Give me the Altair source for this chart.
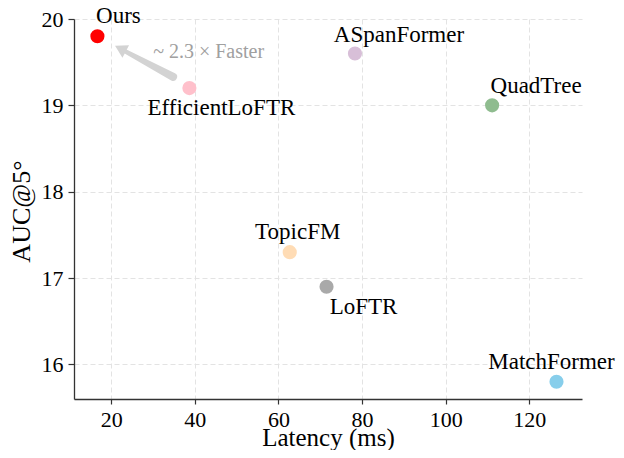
import altair as alt
import pandas as pd

# ---- data ----
methods = ["Ours", "EfficientLoFTR", "ASpanFormer", "QuadTree", "TopicFM", "LoFTR", "MatchFormer"]
latency = [16.7, 38.7, 78.3, 111.1, 62.7, 71.5, 126.5]
auc5 = [19.8, 19.2, 19.6, 19.0, 17.3, 16.9, 15.8]
colors = ["#ff0000", "#ffc0cb", "#d8bfd8", "#8fbc8f", "#ffdcb5", "#a9a9a9", "#87ceeb"]

x_ticks = [20, 40, 60, 80, 100, 120]
y_ticks = [16, 17, 18, 19, 20]

# annotation (arrow from EfficientLoFTR towards Ours)
arrow_x = [34.8, 22.2]
arrow_y = [19.33, 19.656]
arrow_w = [8, 4]
note_text = "~ 2.3 × Faster"
note_x = [43.3]
note_y = [19.547]

# ---- layout / style ----
FONT = "Liberation Serif"
label_offsets = {  # dx, dy (baseline) in px
    "Ours": (21, -13),
    "EfficientLoFTR": (32, 27),
    "ASpanFormer": (44, -12),
    "QuadTree": (44, -12),
    "TopicFM": (8, -13),
    "LoFTR": (37, 27),
    "MatchFormer": (-5, -13),
}
W, H = 508, 380

df = pd.DataFrame({"method": methods, "latency": latency, "auc": auc5})

xs = alt.Scale(domain=[11.1, 132.6], nice=False, zero=False)
ys = alt.Scale(domain=[15.6, 20.0], nice=False, zero=False)

common = dict(
    labelFont=FONT, titleFont=FONT, labelFontSize=22,
    titleFontWeight="normal", labelColor="black", titleColor="black",
    domainColor="#333333", domainWidth=1.3, tickColor="#333333", tickWidth=1.2,
    gridColor="#e3e3e3", gridDash=[5, 3], gridWidth=1, grid=True,
    titleAlign="center", titleBaseline="alphabetic",
)
xaxis = alt.Axis(values=x_ticks, title="Latency (ms)", format="d", tickSize=5,
                 labelPadding=5, titleX=W / 2, titleY=46, titleFontSize=25, **common)
yaxis = alt.Axis(values=y_ticks, title="AUC@5°", format="d", tickSize=6,
                 labelPadding=5, titleAngle=-90, titleX=-45, titleY=192, titleFontSize=26,
                 **common)

base = alt.Chart(df)

points = base.mark_circle(size=200, opacity=1).encode(
    x=alt.X("latency:Q", scale=xs, axis=xaxis),
    y=alt.Y("auc:Q", scale=ys, axis=yaxis),
    color=alt.Color("method:N", scale=alt.Scale(domain=methods, range=colors), legend=None),
)

labels = []
for m in methods:
    dx, dy = label_offsets[m]
    labels.append(
        base.transform_filter(alt.datum.method == m)
        .mark_text(font=FONT, fontSize=23, color="black", align="center",
                   baseline="alphabetic", dx=dx, dy=dy)
        .encode(x=alt.X("latency:Q", scale=xs), y=alt.Y("auc:Q", scale=ys), text="method:N")
    )

arrow_df = pd.DataFrame({"x": arrow_x, "y": arrow_y, "w": arrow_w, "o": [0, 1]})
shaft = alt.Chart(arrow_df).mark_trail(color="#d3d3d3").encode(
    x=alt.X("x:Q", scale=xs), y=alt.Y("y:Q", scale=ys),
    size=alt.Size("w:Q", scale=None, legend=None), order="o:Q",
)
head_df = pd.DataFrame({"x": [arrow_x[1]], "y": [arrow_y[1]]})
head = alt.Chart(head_df).mark_point(shape="triangle-up", size=196, filled=True,
                                     color="#d3d3d3", opacity=1, angle=298).encode(
    x=alt.X("x:Q", scale=xs), y=alt.Y("y:Q", scale=ys))

note_df = pd.DataFrame({"x": note_x, "y": note_y, "t": [note_text]})
note = alt.Chart(note_df).mark_text(font=FONT, fontSize=20, color="#a0a0a0",
                                    align="center", baseline="alphabetic").encode(
    x=alt.X("x:Q", scale=xs), y=alt.Y("y:Q", scale=ys), text="t:N")

chart = alt.layer(shaft, head, points, note, *labels).properties(
    width=W, height=H,
    autosize=alt.AutoSizeParams(type="none"),
    padding={"left": 66, "top": 11, "right": 34, "bottom": 51},
).configure_view(stroke=None)

chart.save("out.html", embed_options={"renderer": "svg", "actions": False})
